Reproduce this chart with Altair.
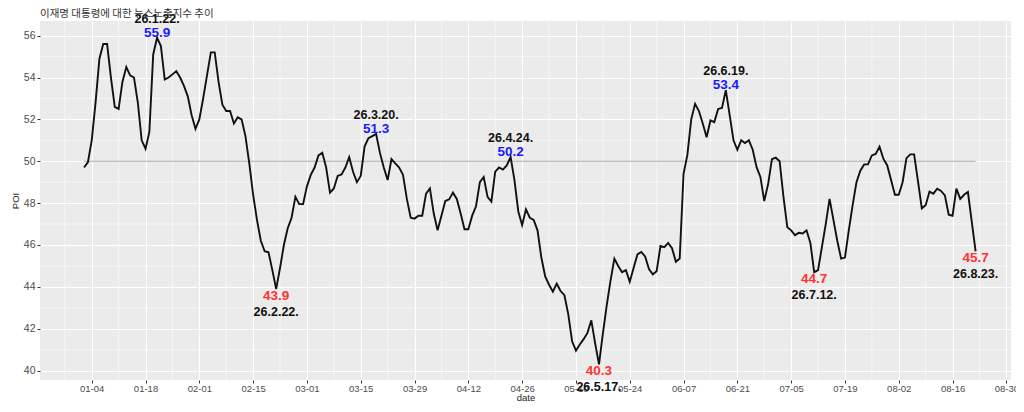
import altair as alt
import pandas as pd

# ---- data ----
start_date = "2026-01-02"
jan = [49.7, 49.95, 51.0, 52.8, 54.9, 55.6, 55.6, 54.0, 52.6, 52.5, 53.8, 54.5, 54.1, 54.0, 52.8,
       51.0, 50.6, 51.4, 55.1, 55.9, 55.5, 53.9, 54.0, 54.15, 54.3, 54.0, 53.6, 53.1, 52.2, 51.55]
feb = [52.0, 53.0, 54.1, 55.2, 55.2, 53.8, 52.7, 52.4, 52.4, 51.8, 52.1, 52.0, 51.2, 49.9, 48.4,
       47.2, 46.2, 45.7, 45.65, 44.8, 43.9, 44.9, 46.0, 46.8, 47.3, 48.3, 47.95, 47.95]
mar = [48.8, 49.35, 49.7, 50.28, 50.4, 49.7, 48.5, 48.7, 49.3, 49.37, 49.7, 50.2, 49.5, 49.0, 49.3,
       50.7, 51.1, 51.2, 51.3, 50.4, 49.7, 49.1, 50.1, 49.9, 49.7, 49.35, 48.2, 47.3, 47.26, 47.4, 47.4]
apr = [48.45, 48.7, 47.5, 46.7, 47.4, 48.1, 48.18, 48.5, 48.2, 47.5, 46.75, 46.75, 47.4, 47.85, 49.0,
       49.25, 48.3, 48.07, 49.5, 49.7, 49.6, 49.8, 50.2, 49.1, 47.6, 46.95, 47.7, 47.3, 47.2, 46.7]
may = [45.4, 44.5, 44.1, 43.77, 44.15, 43.8, 43.6, 42.7, 41.4, 40.95, 41.25, 41.5, 41.8, 42.4, 41.3,
       40.3, 41.75, 43.1, 44.3, 45.35, 45.0, 44.7, 44.8, 44.24, 44.9, 45.55, 45.67, 45.45, 44.85, 44.6, 44.75]
jun = [45.95, 45.9, 46.1, 45.85, 45.2, 45.35, 49.4, 50.3, 52.0, 52.74, 52.4, 51.8, 51.15, 51.95, 51.87,
       52.5, 52.55, 53.4, 52.2, 51.0, 50.55, 51.0, 50.87, 51.0, 50.55, 49.72, 49.25, 48.1, 48.9, 50.1]
jul = [50.17, 50.0, 48.3, 46.85, 46.7, 46.47, 46.58, 46.55, 46.7, 46.1, 44.7, 44.8, 45.9, 47.0, 48.2,
       47.2, 46.2, 45.35, 45.4, 46.7, 47.9, 49.0, 49.55, 49.85, 49.85, 50.28, 50.35, 50.7, 50.12, 49.8, 49.1]
aug = [48.4, 48.4, 49.0, 50.15, 50.33, 50.33, 49.05, 47.75, 47.9, 48.55, 48.45, 48.69, 48.58, 48.37,
       47.45, 47.4, 48.69, 48.2, 48.4, 48.53, 47.1, 45.7]
poi_values = jan + feb + mar + apr + may + jun + jul + aug

ext_dates = ["2026-01-21", "2026-02-21", "2026-03-19", "2026-04-23",
             "2026-05-16", "2026-06-18", "2026-07-11", "2026-08-22"]
ext_values = [55.9, 43.9, 51.3, 50.2, 40.3, 53.4, 44.7, 45.7]
ext_labels = ["26.1.22.", "26.2.22.", "26.3.20.", "26.4.24.",
              "26.5.17.", "26.6.19.", "26.7.12.", "26.8.23."]
ext_kind = ["high", "low", "high", "high", "low", "high", "low", "low"]

title_text = "이재명 대통령에 대한 뉴스노출지수 추이"
ref_level = 50

# ---- tables ----
df = pd.DataFrame({
    "date": pd.date_range(start_date, periods=len(poi_values), freq="D"),
    "POI": poi_values,
})
ext = pd.DataFrame({
    "date": pd.to_datetime(ext_dates),
    "POI": ext_values,
    "label": ext_labels,
    "kind": ext_kind,
})

# ---- ggplot-like grid ----
def dt(ts):
    return alt.DateTime(year=ts.year, month=ts.month, date=ts.day)

x_major_dates = [dt(t) for t in pd.date_range("2026-01-04", "2026-08-30", freq="14D")]
x_minor = pd.DataFrame({"date": pd.date_range("2025-12-28", "2026-08-23", freq="14D")})
y_major_vals = list(range(40, 57, 2))
y_minor = pd.DataFrame({"POI": list(range(41, 57, 2))})

x_scale = alt.Scale(domain=[alt.DateTime(year=2025, month=12, date=21, hours=13),
                            alt.DateTime(year=2026, month=8, date=31, hours=5)])
y_scale = alt.Scale(domain=[39.55, 56.7], nice=False, zero=False)

axis_common = dict(
    gridColor="white", gridWidth=1.1, tickColor="#333333", tickSize=3, domain=False,
    labelColor="#4D4D4D", titleFontSize=9.5, titleFontWeight="normal",
    titleColor="#222222", labelFont="Liberation Sans", titleFont="Liberation Sans",
    labelOverlap=False,
)

x_enc = alt.X(
    "date:T", title="date", scale=x_scale,
    axis=alt.Axis(values=x_major_dates, format="%m-%d", labelFontSize=9.5,
                  labelPadding=0, titlePadding=0, **axis_common),
)
y_enc = alt.Y(
    "POI:Q", title="POI", scale=y_scale,
    axis=alt.Axis(values=y_major_vals, labelFontSize=10.5, labelPadding=2,
                  titlePadding=3, **axis_common),
)

minor_x_rules = alt.Chart(x_minor).mark_rule(color="white", strokeWidth=0.55).encode(x=x_enc)
minor_y_rules = alt.Chart(y_minor).mark_rule(color="white", strokeWidth=0.55).encode(y=y_enc)

base = alt.Chart(df)
ref_rule = base.mark_rule(color="#ababab", strokeWidth=1.2).encode(
    x=alt.X("min(date):T"),
    x2=alt.X2("max(date)"),
    y=alt.datum(ref_level),
)
line = base.mark_line(color="#111111", strokeWidth=1.9).encode(x=x_enc, y=y_enc)

eb = alt.Chart(ext)
font = "Liberation Sans"
hi = eb.transform_filter("datum.kind == 'high'")
lo = eb.transform_filter("datum.kind == 'low'")
hi_val = hi.mark_text(font=font, fontSize=13.5, fontWeight="bold", color="#1a1aff",
                      dy=-5, baseline="middle").encode(
    x="date:T", y="POI:Q", text=alt.Text("POI:Q", format=".1f"))
hi_lab = hi.mark_text(font=font, fontSize=12.5, fontWeight="bold", color="#111111",
                      dy=-19, baseline="middle").encode(
    x="date:T", y="POI:Q", text="label:N")
lo_val = lo.mark_text(font=font, fontSize=13.5, fontWeight="bold", color="#ff3333",
                      dy=7, baseline="middle").encode(
    x="date:T", y="POI:Q", text=alt.Text("POI:Q", format=".1f"))
lo_lab = lo.mark_text(font=font, fontSize=12.5, fontWeight="bold", color="#111111",
                      dy=23, baseline="middle").encode(
    x="date:T", y="POI:Q", text="label:N")

chart = alt.layer(
    minor_x_rules, minor_y_rules, ref_rule, line, hi_val, hi_lab, lo_val, lo_lab
).properties(
    width=971,
    height=359,
    padding={"left": 32, "top": 13, "right": 5, "bottom": 28},
    autosize=alt.AutoSizeParams(type="none"),
    background="white",
    title=alt.TitleParams(
        title_text, anchor="start", frame="group", fontSize=10.5, fontWeight="normal",
        color="#333333", font="Noto Sans CJK KR", offset=2, dy=9,
    ),
).configure_view(fill="#EBEBEB", stroke=None)

chart.save("out.html", embed_options={"renderer": "svg", "actions": False})
